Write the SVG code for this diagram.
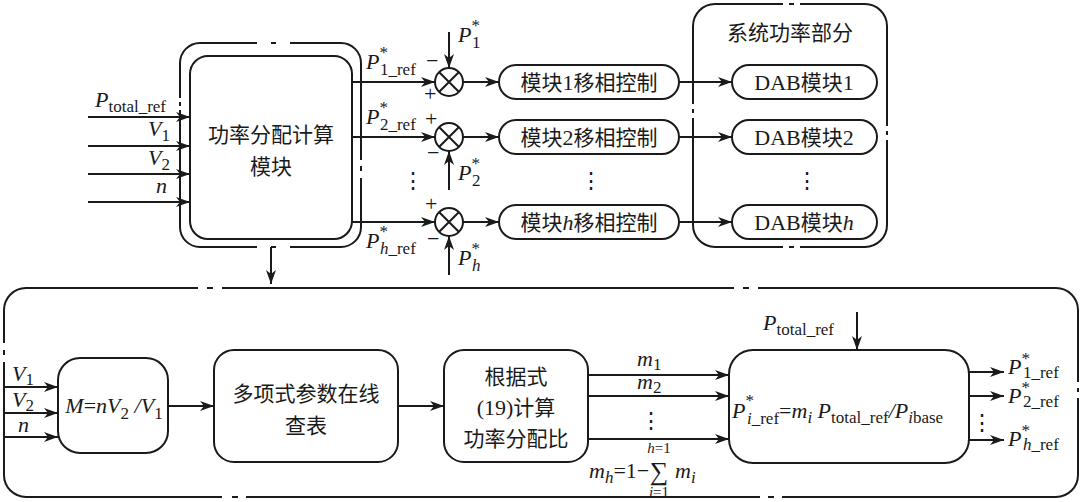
<svg xmlns="http://www.w3.org/2000/svg" width="1080" height="502" viewBox="0 0 1080 502">
<defs>
<marker id="a" viewBox="0 0 14 10" refX="14" refY="5" markerWidth="14" markerHeight="10" markerUnits="userSpaceOnUse" orient="auto"><path d="M0,0 L14,5 L0,10 L4,5 Z" fill="#1a1a1a"/></marker>
<style>
.b{fill:#fff;stroke:#1a1a1a;stroke-width:2}
.l{fill:none;stroke:#1a1a1a;stroke-width:2}
.w{stroke:#fff;stroke-width:5}
.c{font-family:"Noto Sans CJK SC","Liberation Serif",serif;font-size:21px;fill:#1a1a1a}
.t{font-family:"Liberation Serif",serif;font-size:22px;fill:#1a1a1a}
.i{font-style:italic}
.s{font-size:17px}
.m{font-family:"Liberation Serif",serif;fill:#1a1a1a}
</style>
</defs>
<rect width="1080" height="502" fill="#fff"/>

<g id="outerTop">
<rect class="l" x="180" y="43" width="181" height="204" rx="20"/>
<path class="w" d="M257,43H290 M180,98V110 M361,160V178 M257,247H290"/>
<path class="l" d="M271,43H276 M180,102V106 M361,166V171 M271,247H276"/>
</g>
<g id="calc"><rect class="b" x="190" y="56" width="162" height="183" rx="18"/>
<text class="c" x="271" y="142" text-anchor="middle">功率分配计算</text><text class="c" x="271" y="174" text-anchor="middle">模块</text></g>

<g id="sys">
<rect class="l" x="693" y="4" width="194" height="243" rx="22"/>
<path class="w" d="M783,4H800 M693,104V118 M887,126V140 M783,247H800"/>
<path class="l" d="M789,4H794 M693,109V113 M887,131V135 M789,247H794"/>
<text class="c" x="790" y="40" text-anchor="middle">系统功率部分</text>
</g>

<g id="ctl1"><rect class="b" x="499" y="65" width="180" height="34" rx="17"/><text class="c" x="589" y="90" text-anchor="middle">模块<tspan class="t">1</tspan>移相控制</text></g>
<g id="ctl2"><rect class="b" x="499" y="120" width="180" height="34" rx="17"/><text class="c" x="589" y="145" text-anchor="middle">模块<tspan class="t">2</tspan>移相控制</text></g>
<g id="ctlh"><rect class="b" x="499" y="205" width="180" height="34" rx="17"/><text class="c" x="589" y="230" text-anchor="middle">模块<tspan class="t i">h</tspan>移相控制</text></g>
<g id="dab1"><rect class="b" x="732" y="65" width="145" height="34" rx="17"/><text class="c" x="804" y="90" text-anchor="middle"><tspan class="t">DAB</tspan>模块<tspan class="t">1</tspan></text></g>
<g id="dab2"><rect class="b" x="732" y="120" width="145" height="34" rx="17"/><text class="c" x="804" y="145" text-anchor="middle"><tspan class="t">DAB</tspan>模块<tspan class="t">2</tspan></text></g>
<g id="dabh"><rect class="b" x="732" y="205" width="145" height="34" rx="17"/><text class="c" x="804" y="230" text-anchor="middle"><tspan class="t">DAB</tspan>模块<tspan class="t i">h</tspan></text></g>

<g id="sum1"><circle class="b" cx="449" cy="82" r="14"/><path class="l" d="M439,72L459,92M459,72L439,92"/></g>
<g id="sum2"><circle class="b" cx="449" cy="137" r="14"/><path class="l" d="M439,127L459,147M459,127L439,147"/></g>
<g id="sumh"><circle class="b" cx="449" cy="222" r="14"/><path class="l" d="M439,212L459,232M459,212L439,232"/></g>

<g id="bottomOuter">
<rect class="l" x="4" y="288" width="1074" height="209" rx="22"/>
<path class="w" d="M198,288H222 M734,288H758 M4,343V362 M1078,382V398 M222,497H246 M760,497H782"/>
<path class="l" d="M207,288H213 M743,288H749 M4,350V355 M1078,388V392 M232,497H238 M768,497H774"/>
</g>
<g id="mbox"><rect class="b" x="58" y="358" width="110" height="95" rx="22"/><text class="t i" x="114" y="413" text-anchor="middle" font-size="20">M<tspan font-style="normal">=</tspan>nV<tspan class="s" font-style="normal" dy="6">2</tspan><tspan dy="-6"> /V</tspan><tspan class="s" font-style="normal" dy="6">1</tspan></text></g>
<g id="lut"><rect class="b" x="214" y="350" width="184" height="112" rx="20"/><text class="c" x="306" y="401" text-anchor="middle">多项式参数在线</text><text class="c" x="306" y="433" text-anchor="middle">查表</text></g>
<g id="ratio"><rect class="b" x="444" y="350" width="144" height="112" rx="20"/><text class="c" x="516" y="384" text-anchor="middle">根据式</text><text class="c" x="516" y="415" text-anchor="middle"><tspan class="t">(19)</tspan>计算</text><text class="c" x="516" y="446" text-anchor="middle">功率分配比</text></g>
<g id="pref"><rect class="b" x="729" y="350" width="240" height="113" rx="24"/>
<text class="t i" x="732" y="418" font-size="21">P<tspan class="s" font-style="normal" dy="-12">*</tspan><tspan class="s" dx="-7" dy="18">i</tspan><tspan class="s" font-style="normal">_ref</tspan><tspan font-style="normal" dy="-6">=</tspan>m<tspan class="s" dy="5">i</tspan><tspan dy="-5"> P</tspan><tspan class="s" font-style="normal" dy="5">total_ref</tspan><tspan dy="-5">/P</tspan><tspan class="s" dy="5">i</tspan><tspan class="s" font-style="normal">base</tspan></text></g>

<g id="connectors">
<path class="l" marker-end="url(#a)" d="M88,117H190"/><path class="l" marker-end="url(#a)" d="M88,146H190"/><path class="l" marker-end="url(#a)" d="M88,174H190"/><path class="l" marker-end="url(#a)" d="M88,202H190"/>
<path class="l" marker-end="url(#a)" d="M352,82H435"/><path class="l" marker-end="url(#a)" d="M352,137H435"/><path class="l" marker-end="url(#a)" d="M352,222H435"/>
<path class="l" marker-end="url(#a)" d="M449,32V68"/><path class="l" marker-end="url(#a)" d="M449,190V151"/><path class="l" marker-end="url(#a)" d="M449,275V236"/>
<path class="l" marker-end="url(#a)" d="M463,82H499"/><path class="l" marker-end="url(#a)" d="M463,137H499"/><path class="l" marker-end="url(#a)" d="M463,222H499"/>
<path class="l" marker-end="url(#a)" d="M679,82H732"/><path class="l" marker-end="url(#a)" d="M679,137H732"/><path class="l" marker-end="url(#a)" d="M679,222H732"/>
<path class="l" marker-end="url(#a)" d="M271,247V284"/>
<path class="l" marker-end="url(#a)" d="M4,387H58"/><path class="l" marker-end="url(#a)" d="M4,413H58"/><path class="l" marker-end="url(#a)" d="M4,437H58"/>
<path class="l" marker-end="url(#a)" d="M168,406H214"/><path class="l" marker-end="url(#a)" d="M398,406H444"/>
<path class="l" marker-end="url(#a)" d="M588,375H729"/><path class="l" marker-end="url(#a)" d="M588,396H729"/><path class="l" marker-end="url(#a)" d="M588,439H729"/>
<path class="l" marker-end="url(#a)" d="M857,312V350"/>
<path class="l" marker-end="url(#a)" d="M969,372H1004"/><path class="l" marker-end="url(#a)" d="M969,396H1004"/><path class="l" marker-end="url(#a)" d="M969,440H1004"/>
</g>

<g id="labels">
<text class="t i" x="95" y="107">P<tspan class="s" font-style="normal" dy="5">total_ref</tspan></text>
<text class="t i" x="148" y="136">V<tspan class="s" font-style="normal" dy="5">1</tspan></text>
<text class="t i" x="148" y="165">V<tspan class="s" font-style="normal" dy="5">2</tspan></text>
<text class="t i" x="156" y="193">n</text>
<text class="t i" x="366" y="69">P<tspan class="s" font-style="normal" dy="-11">*</tspan><tspan class="s" font-style="normal" dx="-8" dy="17">1_ref</tspan></text>
<text class="t i" x="366" y="124">P<tspan class="s" font-style="normal" dy="-11">*</tspan><tspan class="s" font-style="normal" dx="-8" dy="17">2_ref</tspan></text>
<text class="t i" x="366" y="248">P<tspan class="s" font-style="normal" dy="-11">*</tspan><tspan class="s" dx="-8" dy="17">h</tspan><tspan class="s" font-style="normal">_ref</tspan></text>
<text class="t i" x="458" y="42">P<tspan class="s" font-style="normal" dy="-11">*</tspan><tspan class="s" font-style="normal" dx="-8" dy="17">1</tspan></text>
<text class="t i" x="458" y="180">P<tspan class="s" font-style="normal" dy="-11">*</tspan><tspan class="s" font-style="normal" dx="-8" dy="17">2</tspan></text>
<text class="t i" x="458" y="265">P<tspan class="s" font-style="normal" dy="-11">*</tspan><tspan class="s" dx="-8" dy="17">h</tspan></text>
<text class="t" x="426" y="68">−</text><text class="t" x="424" y="101">+</text>
<text class="t" x="425" y="126">+</text><text class="t" x="427" y="160">−</text>
<text class="t" x="425" y="211">+</text><text class="t" x="427" y="246">−</text>
<text class="t" x="413" y="188" text-anchor="middle">⋮</text>
<text class="t" x="591" y="188" text-anchor="middle">⋮</text>
<text class="t" x="807" y="188" text-anchor="middle">⋮</text>
<text class="t i" x="12" y="381" font-size="20">V<tspan class="s" font-style="normal" dy="4">1</tspan></text>
<text class="t i" x="12" y="407" font-size="20">V<tspan class="s" font-style="normal" dy="4">2</tspan></text>
<text class="t i" x="18" y="432" font-size="20">n</text>
<text class="t i" x="637" y="366" font-size="20">m<tspan class="s" font-style="normal" dy="4">1</tspan></text>
<text class="t i" x="637" y="389" font-size="20">m<tspan class="s" font-style="normal" dy="4">2</tspan></text>
<text class="t" x="651" y="428" text-anchor="middle">⋮</text>
<text class="m i" x="659" y="453" font-size="15" text-anchor="middle">h<tspan font-style="normal">=1</tspan></text>
<text class="t i" x="589" y="478">m<tspan class="s" dy="5">h</tspan><tspan font-style="normal" dy="-5">=1−</tspan></text>
<text class="m" x="659" y="480" font-size="26" text-anchor="middle">∑</text>
<text class="t i" x="675" y="478">m<tspan class="s" dy="5">i</tspan></text>
<text class="m i" x="659" y="497" font-size="15" text-anchor="middle">i<tspan font-style="normal">=1</tspan></text>
<text class="t i" x="763" y="330">P<tspan class="s" font-style="normal" dy="5">total_ref</tspan></text>
<text class="t i" x="1008" y="374" font-size="20">P<tspan class="s" font-style="normal" font-size="15" dy="-10">*</tspan><tspan class="s" font-style="normal" font-size="15" dx="-7" dy="14">1_ref</tspan></text>
<text class="t i" x="1008" y="403" font-size="20">P<tspan class="s" font-style="normal" font-size="15" dy="-10">*</tspan><tspan class="s" font-style="normal" font-size="15" dx="-7" dy="14">2_ref</tspan></text>
<text class="t i" x="1008" y="446" font-size="20">P<tspan class="s" font-style="normal" font-size="15" dy="-10">*</tspan><tspan class="s" font-size="15" dx="-7" dy="14">h</tspan><tspan class="s" font-style="normal" font-size="15">_ref</tspan></text>
<text class="t" x="982" y="430" text-anchor="middle">⋮</text>
</g>
</svg>
